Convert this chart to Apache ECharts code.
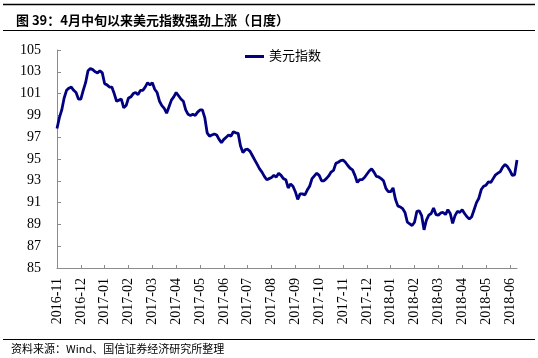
<!DOCTYPE html>
<html>
<head>
<meta charset="utf-8">
<script src="https://cdn.jsdelivr.net/npm/echarts@6/dist/echarts.min.js"></script>
<style>
html,body{margin:0;padding:0;background:#fff;}
#chart{width:538px;height:358px;}
</style>
</head>
<body>
<div id="chart"></div>
<script>
// Month tick labels (one tick every 10 samples)
var tickLabels = ['2016-11','2016-12','2017-01','2017-02','2017-03','2017-04','2017-05','2017-06','2017-07','2017-08',
                  '2017-09','2017-10','2017-11','2017-12','2018-01','2018-02','2018-03','2018-04','2018-05','2018-06'];
var samplesPerMonth = 10;
var trailingSamples = 3;

// US dollar index (10 samples per month)
var usdIndex = [
  97.8, 98.8, 99.5, 100.6, 101.3, 101.5, 101.6, 101.3, 101.1, 100.5,
  100.5, 101.3, 102.0, 103.1, 103.3, 103.2, 103.0, 102.9, 103.1, 102.9,
  101.9, 101.8, 101.6, 101.6, 101.0, 100.3, 100.4, 100.5, 99.7, 99.9,
  100.6, 100.7, 101.0, 101.1, 100.9, 101.3, 101.3, 101.6, 102.0, 101.8,
  102.0, 101.4, 101.1, 100.3, 99.9, 99.65, 99.2, 99.8, 100.4, 100.7,
  101.1, 100.8, 100.5, 100.3, 99.5, 99.1, 99.0, 99.1, 99.0, 99.3,
  99.5, 99.5, 98.8, 97.4, 97.1, 97.2, 97.3, 97.2, 96.8, 96.5,
  96.8, 97.0, 97.2, 97.1, 97.5, 97.4, 97.35, 96.2, 95.6, 95.85,
  95.9, 95.7, 95.3, 94.9, 94.5, 94.1, 93.8, 93.4, 93.1, 93.2,
  93.3, 93.5, 93.35, 93.7, 93.5, 93.2, 93.1, 92.35, 92.7, 92.5,
  92.0, 91.3, 91.8, 91.8, 91.7, 92.15, 92.5, 93.2, 93.45, 93.7,
  93.5, 93.0, 93.0, 93.2, 93.45, 93.8, 93.95, 94.6, 94.7, 94.85,
  94.9, 94.7, 94.4, 94.15, 94.0, 93.5, 92.85, 93.1, 93.1, 93.3,
  93.6, 93.9, 94.1, 93.8, 93.4, 93.35, 93.2, 93.0, 92.3, 92.0,
  92.0, 92.35, 91.3, 90.7, 90.6, 90.45, 90.1, 89.2, 89.05, 88.9,
  89.2, 90.2, 90.25, 89.8, 88.5, 89.4, 89.85, 90.0, 90.5, 89.9,
  89.85, 90.05, 90.1, 89.9, 90.35, 90.0, 89.1, 89.8, 90.2, 90.1,
  90.35, 90.0, 89.7, 89.5, 89.7, 90.35, 91.0, 91.4, 92.2, 92.5,
  92.6, 92.9, 92.85, 93.2, 93.55, 93.7, 93.85, 94.25, 94.5, 94.3,
  93.95, 93.5, 93.55, 94.9
];

var yMin = 85, yMax = 105, yStep = 2;

// Build category list from tick labels
var categories = [];
tickLabels.forEach(function (lab, k) {
  categories.push(lab);
  var fill = (k === tickLabels.length - 1) ? trailingSamples : samplesPerMonth - 1;
  for (var j = 0; j < fill; j++) categories.push(lab + '#' + j);
});

var chart = echarts.init(document.getElementById('chart'), null, {renderer: 'canvas'});
var serif = '"Liberation Serif", "Times New Roman", serif';
var cjk = '"Liberation Serif", "Noto Sans CJK SC", serif';

chart.setOption({
  animation: false,
  backgroundColor: '#fff',
  title: {
    text: '图 39：4月中旬以来美元指数强劲上涨（日度）',
    left: 11, top: 9,
    textStyle: {fontSize: 13, fontWeight: 'bold', color: '#000', fontFamily: '"Noto Sans CJK SC", sans-serif'}
  },
  legend: {
    data: ['美元指数'],
    left: 240, top: 45,
    icon: 'rect', itemWidth: 19, itemHeight: 3,
    textStyle: {fontSize: 13, color: '#000', fontFamily: cjk}
  },
  grid: {left: 57, right: 21, top: 50, bottom: 90},
  xAxis: {
    type: 'category',
    data: categories,
    boundaryGap: false,
    axisLine: {lineStyle: {color: '#8c8c8c', width: 1}},
    axisTick: {inside: true, length: 3, interval: samplesPerMonth - 1, lineStyle: {color: '#8c8c8c'}},
    axisLabel: {
      interval: samplesPerMonth - 1, rotate: 90, margin: 10,
      fontSize: 14, color: '#000', fontFamily: serif,
      formatter: function (v) { return v.indexOf('#') >= 0 ? '' : v; }
    },
    splitLine: {show: false}
  },
  yAxis: {
    type: 'value',
    min: yMin, max: yMax, interval: yStep,
    axisLine: {show: true, lineStyle: {color: '#8c8c8c', width: 1}},
    axisTick: {show: true, inside: true, length: 4, lineStyle: {color: '#8c8c8c'}},
    axisLabel: {fontSize: 14, color: '#000', fontFamily: serif, margin: 16},
    splitLine: {show: false}
  },
  series: [{
    name: '美元指数',
    type: 'line',
    data: usdIndex,
    symbol: 'none',
    lineStyle: {color: '#000080', width: 2.8},
    itemStyle: {color: '#000080'}
  }],
  graphic: [
    {type: 'line', shape: {x1: 3, y1: 4.5, x2: 535, y2: 4.5}, style: {stroke: '#000', lineWidth: 1.5}},
    {type: 'line', shape: {x1: 3, y1: 30.5, x2: 535, y2: 30.5}, style: {stroke: '#000', lineWidth: 1}},
    {type: 'line', shape: {x1: 3, y1: 339.5, x2: 535, y2: 339.5}, style: {stroke: '#000', lineWidth: 1}},
    {type: 'text', left: 11, top: 343,
     style: {text: '资料来源：Wind、国信证券经济研究所整理', fontSize: 11, fill: '#000', fontFamily: '"Noto Sans CJK SC", sans-serif'}}
  ]
});
</script>
</body>
</html>
